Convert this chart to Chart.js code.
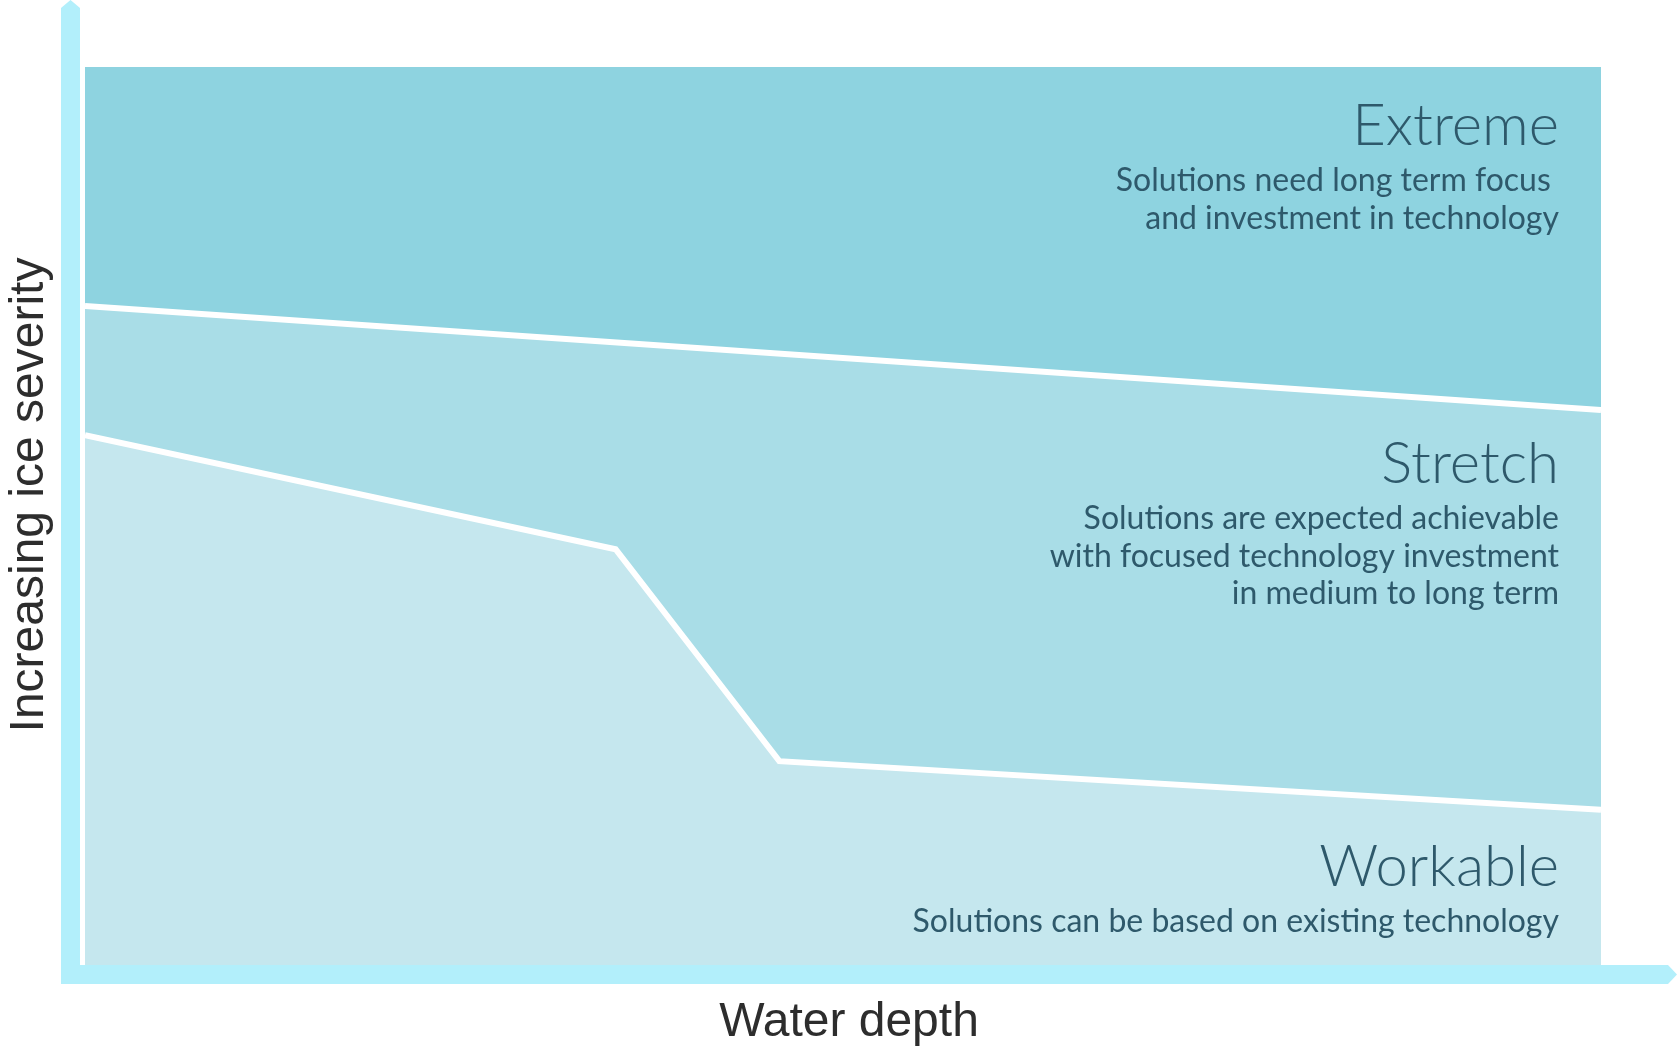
<!DOCTYPE html>
<html lang="en">
<head>
<meta charset="UTF-8">
<title>Ice severity vs water depth</title>
<script src="https://cdn.jsdelivr.net/npm/chart.js"></script>
<style>
  body {
    margin: 0;
    padding: 0;
    background: #fff;
  }
  .chart-box {
    width: 1677px;
    height: 1048px;
    position: relative;
  }
</style>
</head>
<body>
<div class="chart-box">
  <canvas id="iceChart"></canvas>
</div>
<script>
  // boundary lines between the zones (x = water depth, y = ice severity, 0-100)
  const upperDepth = [0, 100];
  const upperSeverity = [73.4, 61.8];
  const lowerDepth = [0, 35.0, 45.8, 100];
  const lowerSeverity = [59.0, 46.3, 22.7, 17.3];

  const zoneNames = ['Extreme', 'Stretch', 'Workable'];
  const zoneNotes = [
    ['Solutions need long term focus ', 'and investment in technology'],
    ['Solutions are expected achievable', 'with focused technology investment', 'in medium to long term'],
    ['Solutions can be based on existing technology']
  ];

  const xTitle = 'Water depth';
  const yTitle = 'Increasing ice severity';

  const toPoints = (xs, ys) => xs.map((x, i) => ({ x: x, y: ys[i] }));

  // background bars with arrow tips, axis titles and zone captions
  const decorations = {
    id: 'decorations',
    beforeDraw(chart) {
      const ctx = chart.ctx;
      const a = chart.chartArea;
      ctx.save();
      ctx.fillStyle = '#ffffff';
      ctx.fillRect(0, 0, chart.width, chart.height);
      // top zone fills the whole plot, the other zones are drawn over it
      ctx.fillStyle = '#8ed3e0';
      ctx.fillRect(a.left, a.top, a.right - a.left, a.bottom - a.top);
      ctx.restore();
    },
    afterDraw(chart) {
      const ctx = chart.ctx;
      ctx.save();
      ctx.fillStyle = '#b2effb';
      // vertical axis bar
      ctx.beginPath();
      ctx.moveTo(61, 984);
      ctx.lineTo(61, 8);
      ctx.lineTo(70.5, 0);
      ctx.lineTo(80, 8);
      ctx.lineTo(80, 984);
      ctx.closePath();
      ctx.fill();
      // horizontal axis bar
      ctx.beginPath();
      ctx.moveTo(61, 965);
      ctx.lineTo(1668, 965);
      ctx.lineTo(1677, 974.5);
      ctx.lineTo(1668, 984);
      ctx.lineTo(61, 984);
      ctx.closePath();
      ctx.fill();

      // axis titles
      ctx.fillStyle = '#2d2d2d';
      ctx.font = '48px "Liberation Sans", Arial, sans-serif';
      ctx.textAlign = 'center';
      ctx.textBaseline = 'alphabetic';
      ctx.fillText(xTitle, 849, 1036);
      ctx.translate(43, 495);
      ctx.rotate(-Math.PI / 2);
      ctx.fillText(yTitle, 0, 0);
      ctx.setTransform(1, 0, 0, 1, 0, 0);

      // zone captions
      const right = 1559;
      const titleBase = [145, 483, 886];
      ctx.fillStyle = '#2e596b';
      ctx.textAlign = 'right';
      zoneNames.forEach((name, i) => {
        ctx.font = '300 58px Lato, "Open Sans", sans-serif';
        ctx.fillText(name, right, titleBase[i]);
        ctx.font = '400 32px Lato, "Open Sans", sans-serif';
        zoneNotes[i].forEach((line, j) => {
          ctx.fillText(line, right, titleBase[i] + 46 + j * 37.5);
        });
      });
      ctx.restore();
    }
  };

  const iceChart = new Chart(
    document.getElementById('iceChart'),
    {
      type: 'line',
      data: {
        datasets: [{
          label: 'Stretch',
          data: toPoints(upperDepth, upperSeverity),
          borderColor: '#ffffff',
          borderWidth: 6,
          backgroundColor: '#a9dde7',
          fill: 'origin',
          pointRadius: 0,
          order: 2
        }, {
          label: 'Workable',
          data: toPoints(lowerDepth, lowerSeverity),
          borderColor: '#ffffff',
          borderWidth: 6,
          backgroundColor: '#c5e7ee',
          fill: 'origin',
          pointRadius: 0,
          order: 1
        }]
      },
      options: {
        responsive: true,
        maintainAspectRatio: false,
        animation: false,
        layout: {
          padding: { left: 85, right: 76, top: 67, bottom: 83 }
        },
        elements: {
          line: { tension: 0, borderJoinStyle: 'miter' }
        },
        plugins: {
          legend: { display: false },
          tooltip: { enabled: false },
          filler: { drawTime: 'beforeDatasetsDraw' }
        },
        scales: {
          x: { type: 'linear', min: 0, max: 100, display: false },
          y: { type: 'linear', min: 0, max: 100, display: false }
        }
      },
      plugins: [decorations]
    }
  );
</script>
</body>
</html>
